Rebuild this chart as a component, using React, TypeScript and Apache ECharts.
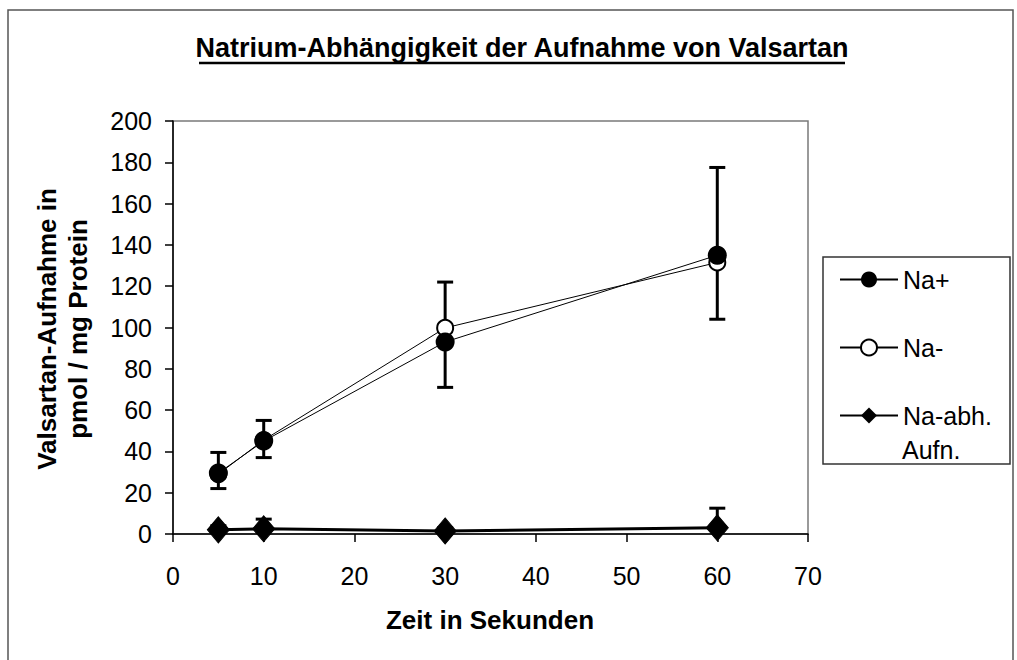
import React, { useEffect, useRef } from "react";
import * as echarts from "echarts";

const xSeconds = [5, 10, 30, 60];
const naPlus = [29.5, 45, 93, 135];
const naMinus = [29, 45.5, 99.8, 131.5];
const naDep = [2, 2.5, 1.5, 3];
const naPlusErrLow = [22, 37, 71, 104];
const naPlusErrHigh = [39.5, 55, 122, 177.5];
const naDepErrHigh = [4, 7.2, 3, 12.5];
const yTicks = { min: 0, max: 200, interval: 20 };
const xTicks = { min: 0, max: 70, interval: 10 };

const FONT = "Liberation Sans, Arial, sans-serif";

export default function App() {
  const ref = useRef<HTMLDivElement>(null);
  useEffect(() => {
    if (!ref.current) return;
    const chart = echarts.init(ref.current, undefined, { renderer: "svg" });

    const errPlus = xSeconds.map((x, i) => [x, naPlusErrLow[i], naPlusErrHigh[i]]);
    const errDep = xSeconds.map((x, i) => [x, naDep[i], naDepErrHigh[i]]);

    const makeErr = (capBottom: boolean) => (params: any, api: any) => {
      const x = api.value(0);
      const lo = api.coord([x, api.value(1)]);
      const hi = api.coord([x, api.value(2)]);
      const half = 8;
      const style = { stroke: "#000", lineWidth: 3 };
      const children: any[] = [
        { type: "line", shape: { x1: lo[0], y1: lo[1], x2: hi[0], y2: hi[1] }, style },
        { type: "line", shape: { x1: hi[0] - half, y1: hi[1], x2: hi[0] + half, y2: hi[1] }, style },
      ];
      if (capBottom) {
        children.push({ type: "line", shape: { x1: lo[0] - half, y1: lo[1], x2: lo[0] + half, y2: lo[1] }, style });
      }
      return { type: "group", children };
    };

    const legendBase = {
      left: 839,
      padding: 0,
      itemWidth: 58,
      itemHeight: 20,
      itemGap: 0,
      textStyle: { fontSize: 25, color: "#000", fontFamily: FONT },
      selectedMode: false,
    };

    chart.setOption({
      animation: false,
      textStyle: { fontFamily: FONT },
      grid: {
        left: 173,
        top: 121,
        width: 635,
        height: 413,
        show: true,
        borderColor: "#7a7a7a",
        borderWidth: 1.5,
        backgroundColor: "transparent",
      },
      xAxis: {
        type: "value",
        min: xTicks.min,
        max: xTicks.max,
        interval: xTicks.interval,
        axisLine: { show: true, onZero: false, lineStyle: { color: "#000", width: 1.5 } },
        axisTick: { show: true, inside: false, length: 8, lineStyle: { color: "#000", width: 1.5 } },
        splitLine: { show: false },
        axisLabel: { color: "#000", fontSize: 25, fontFamily: FONT, margin: 29 },
      },
      yAxis: {
        type: "value",
        min: yTicks.min,
        max: yTicks.max,
        interval: yTicks.interval,
        axisLine: { show: true, lineStyle: { color: "#000", width: 1.5 } },
        axisTick: { show: true, inside: false, length: 8, lineStyle: { color: "#000", width: 1.5 } },
        splitLine: { show: false },
        axisLabel: { color: "#000", fontSize: 25, fontFamily: FONT, margin: 21 },
      },
      legend: [
        { ...legendBase, data: ["Na+"], top: 267 },
        { ...legendBase, data: ["Na-"], top: 335 },
        { ...legendBase, data: ["Na-abh."], top: 403 },
      ],
      graphic: [
        {
          type: "rect",
          shape: { x: 8, y: 10, width: 1005, height: 660 },
          style: { fill: "none", stroke: "#555", lineWidth: 1.5 },
          silent: true,
        },
        {
          type: "rect",
          shape: { x: 823, y: 257, width: 187, height: 207 },
          style: { fill: "none", stroke: "#333", lineWidth: 1.5 },
          silent: true,
        },
        {
          type: "text",
          x: 522,
          y: 48,
          style: {
            text: "Natrium-Abhängigkeit der Aufnahme von Valsartan",
            fontSize: 27,
            fontWeight: "bold",
            fontFamily: FONT,
            fill: "#000",
            textAlign: "center",
            textVerticalAlign: "middle",
          },
        },
        {
          type: "line",
          shape: { x1: 199, y1: 63, x2: 845, y2: 63 },
          style: { stroke: "#000", lineWidth: 2.5 },
        },
        {
          type: "text",
          x: 490,
          y: 620,
          style: {
            text: "Zeit in Sekunden",
            fontSize: 26,
            fontWeight: "bold",
            fontFamily: FONT,
            fill: "#000",
            textAlign: "center",
            textVerticalAlign: "middle",
          },
        },
        {
          type: "text",
          x: 47,
          y: 329,
          rotation: Math.PI / 2,
          style: {
            text: "Valsartan-Aufnahme in",
            fontSize: 26,
            fontWeight: "bold",
            fontFamily: FONT,
            fill: "#000",
            textAlign: "center",
            textVerticalAlign: "middle",
          },
        },
        {
          type: "text",
          x: 78,
          y: 329,
          rotation: Math.PI / 2,
          style: {
            text: "pmol / mg Protein",
            fontSize: 26,
            fontWeight: "bold",
            fontFamily: FONT,
            fill: "#000",
            textAlign: "center",
            textVerticalAlign: "middle",
          },
        },
        {
          type: "text",
          x: 902,
          y: 450,
          style: {
            text: "Aufn.",
            fontSize: 25,
            fontFamily: FONT,
            fill: "#000",
            textAlign: "left",
            textVerticalAlign: "middle",
          },
        },
      ],
      series: [
        {
          name: "Na+ Fehler",
          type: "custom",
          renderItem: makeErr(true),
          data: errPlus,
          z: 1,
        },
        {
          name: "Na-abh. Fehler",
          type: "custom",
          renderItem: makeErr(false),
          data: errDep,
          z: 1,
        },
        {
          name: "Na-",
          type: "line",
          data: xSeconds.map((x, i) => [x, naMinus[i]]),
          symbol: "emptyCircle",
          symbolSize: 16,
          showAllSymbol: true,
          lineStyle: { color: "#000", width: 1 },
          itemStyle: { color: "#000", borderColor: "#000", borderWidth: 2.5 },
          z: 3,
        },
        {
          name: "Na+",
          type: "line",
          data: xSeconds.map((x, i) => [x, naPlus[i]]),
          symbol: "circle",
          symbolSize: 19,
          lineStyle: { color: "#000", width: 1 },
          itemStyle: { color: "#000", borderColor: "#000", borderWidth: 0 },
          z: 4,
        },
        {
          name: "Na-abh.",
          type: "line",
          data: xSeconds.map((x, i) => [x, naDep[i]]),
          symbol: "diamond",
          symbolSize: [22, 26],
          lineStyle: { color: "#000", width: 3 },
          itemStyle: { color: "#000", borderColor: "#000" },
          z: 3,
        },
      ],
    });
    return () => chart.dispose();
  }, []);
  return (
    <div
      ref={ref}
      style={{ position: "absolute", left: 0, top: 0, width: 1017, height: 660, background: "#fff" }}
    />
  );
}
